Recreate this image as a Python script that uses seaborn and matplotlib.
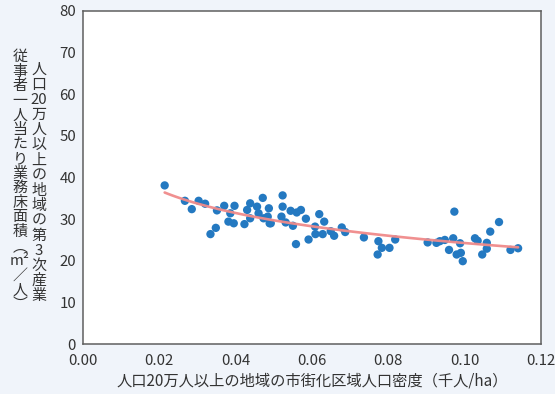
import numpy as np
import pandas as pd
import matplotlib
matplotlib.use("Agg")
import matplotlib.pyplot as plt
import seaborn as sns

# ---- data ----
density = [0.0214, 0.0267, 0.0285, 0.0303, 0.0320, 0.0334, 0.0348, 0.0351, 0.0370, 0.0381,
           0.0397, 0.0395, 0.0386, 0.0423, 0.0430, 0.0438, 0.0438, 0.0456, 0.0471, 0.0460,
           0.0473, 0.0487, 0.0484, 0.0489, 0.0492, 0.0523, 0.0523, 0.0520, 0.0531, 0.0544,
           0.0550, 0.0558, 0.0560, 0.0571, 0.0584, 0.0591, 0.0608, 0.0609, 0.0619, 0.0628,
           0.0632, 0.0649, 0.0658, 0.0678, 0.0687, 0.0736, 0.0774, 0.0783, 0.0772, 0.0803,
           0.0818, 0.0903, 0.0926, 0.0935, 0.0948, 0.0959, 0.0970, 0.0973, 0.0988, 0.0979,
           0.0990, 0.0995, 0.1027, 0.1034, 0.1046, 0.1058, 0.1058, 0.1067, 0.1090, 0.1120,
           0.1140]
floor_area = [38.1, 34.4, 32.4, 34.4, 33.7, 26.4, 27.9, 32.1, 33.2, 29.4,
              33.2, 29.0, 31.4, 28.8, 32.2, 33.8, 30.2, 33.0, 35.1, 31.4,
              30.2, 32.6, 30.6, 29.0, 29.0, 35.7, 33.0, 30.6, 29.2, 32.0,
              28.4, 24.0, 31.6, 32.2, 30.1, 25.1, 28.2, 26.4, 31.2, 26.4,
              29.4, 27.1, 26.0, 28.0, 26.9, 25.6, 24.7, 23.1, 21.5, 23.1,
              25.1, 24.4, 24.3, 24.7, 25.0, 22.6, 25.4, 31.8, 24.2, 21.5,
              21.9, 19.9, 25.4, 24.8, 21.5, 24.3, 22.9, 27.0, 29.3, 22.6,
              23.0]
x_ticks = [0.00, 0.02, 0.04, 0.06, 0.08, 0.10, 0.12]
y_ticks = [0, 10, 20, 30, 40, 50, 60, 70, 80]
x_label = "人口20万人以上の地域の市街化区域人口密度（千人/ha）"
y_label_right = ["人", "口", "20", "万", "人", "以", "上", "の", "地", "域", "の", "第", "3", "次", "産", "業"]
y_label_left = ["従", "事", "者", "一", "人", "当", "た", "り", "業", "務", "床", "面", "積",
                "︵", "m²", "／", "人", "︶"]

df = pd.DataFrame({"x": density, "y": floor_area})

# logarithmic trend line fitted to the points: y = a + b*ln(x)
b, a = np.polyfit(np.log(df["x"]), df["y"], 1)
xs = np.linspace(min(density), max(density), 100)
ys = a + b * np.log(xs)

sns.set_theme(style="white")
plt.rcParams["font.family"] = ["Noto Sans CJK JP", "DejaVu Sans"]

W, H = 555, 394
fig = plt.figure(figsize=(W / 100, H / 100), dpi=100, facecolor="#f0f4fa")
ax = fig.add_axes([83 / W, 1 - 344 / H, (541 - 83) / W, (344 - 11) / H])
ax.set_facecolor("white")

sns.scatterplot(data=df, x="x", y="y", ax=ax, color="#2479c1", s=36,
                edgecolor="none", linewidth=0, zorder=2)
ax.plot(xs, ys, color="#f08a8a", lw=1.9, zorder=3, alpha=0.95)

ax.set_xlim(0, 0.12)
ax.set_ylim(0, 80)
ax.set_xticks(x_ticks)
ax.set_xticklabels([f"{t:.2f}" for t in x_ticks])
ax.set_yticks(y_ticks)
ax.set_yticklabels([str(t) for t in y_ticks])
ax.tick_params(direction="in", length=5, width=1, color="#777777",
               labelsize=10.8, labelcolor="#333333")
ax.tick_params(axis="x", pad=7.5)
ax.tick_params(axis="y", pad=5)
for s in ax.spines.values():
    s.set_color("#5f5f5f")
    s.set_linewidth(1.1)
ax.set_xlabel("")
ax.set_ylabel("")

fig.text(312 / W, 1 - 381 / H, x_label, ha="center", va="center",
         fontsize=11, color="#333333")

def vcol(chars, xpx, y0, y1):
    n = len(chars)
    for i, c in enumerate(chars):
        ypx = y0 + (y1 - y0) * i / (n - 1)
        fig.text(xpx / W, 1 - ypx / H, c, ha="center", va="center",
                 fontsize=10.8, color="#333333")

vcol(y_label_right, 39, 70, 296)
vcol(y_label_left, 20, 57, 305)

fig.savefig("out.png", dpi=100, facecolor=fig.get_facecolor())
